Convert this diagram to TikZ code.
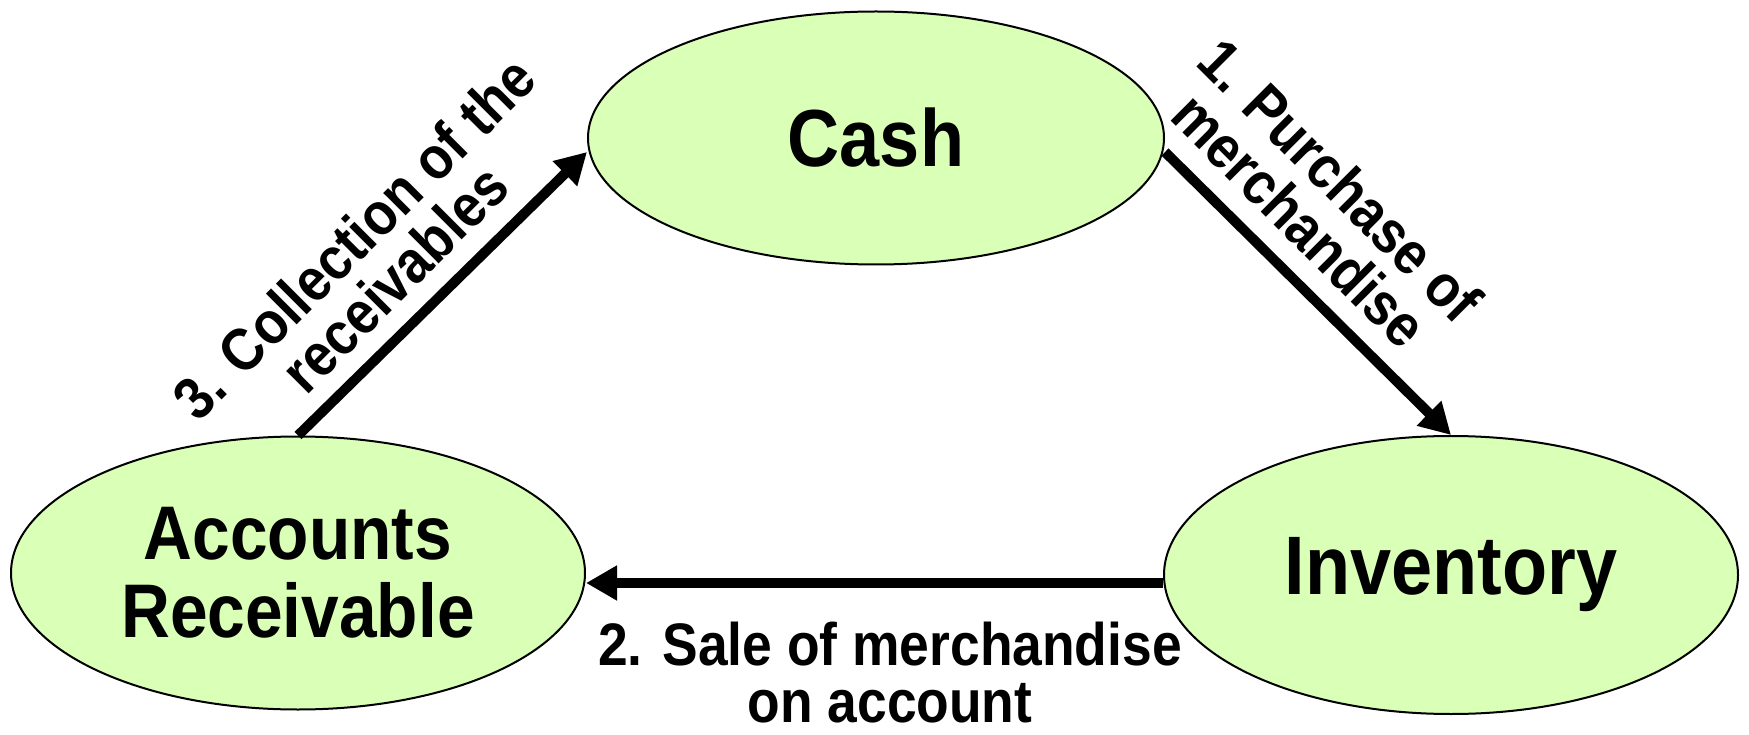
\documentclass[tikz,border=0pt]{standalone}
\usepackage{fontspec}
\setmainfont[FakeStretch=0.89]{Liberation Sans}
\usetikzlibrary{shapes.geometric,arrows.meta}
\definecolor{accfill}{RGB}{218,255,182}
\begin{document}
\begin{tikzpicture}[x=1pt,y=-1pt,
  account/.style={ellipse, draw=black, line width=2pt, fill=accfill,
    inner sep=0pt, align=center},
  flow/.style={line width=10pt, -{Triangle[length=31pt,width=33pt]}},
  caption/.style={align=center, inner sep=0pt,
    font=\bfseries\fontsize{60}{57}\selectfont}]
% page area
\fill[white] (0,0) rectangle (1749,735);
\useasboundingbox (0,0) rectangle (1749,735);

% the three accounts
\node[account, minimum width=576pt, minimum height=253pt,
  font=\bfseries\fontsize{81}{88}\selectfont] (cash) at (876,138) {Cash};
\node[account, minimum width=574pt, minimum height=273pt,
  font=\bfseries\fontsize{76}{78}\selectfont] (ar) at (298,573) {Accounts\\Receivable};
\node[account, minimum width=574pt, minimum height=278pt,
  font=\bfseries\fontsize{83}{88}\selectfont] (inv) at (1451,575) {Inventory};

% cycle of flows
\draw[flow] ([yshift=-14pt]cash.east) -- (inv.north);
\draw[flow] ([yshift=-8pt]inv.west) -- ([yshift=-8pt]inv.west -| ar.east);
\draw[flow] (ar.north) -- ([yshift=-14pt]cash.west);

% flow captions
\node[caption, rotate=-45] (lab1) at (1320,200) {1. Purchase of\\merchandise};
\node[caption] (lab2) at (890,673) {2. Sale of merchandise\\on account};
\node[caption, rotate=45] (lab3) at (374,258) {3. Collection of the\\receivables};
\end{tikzpicture}
\end{document}
